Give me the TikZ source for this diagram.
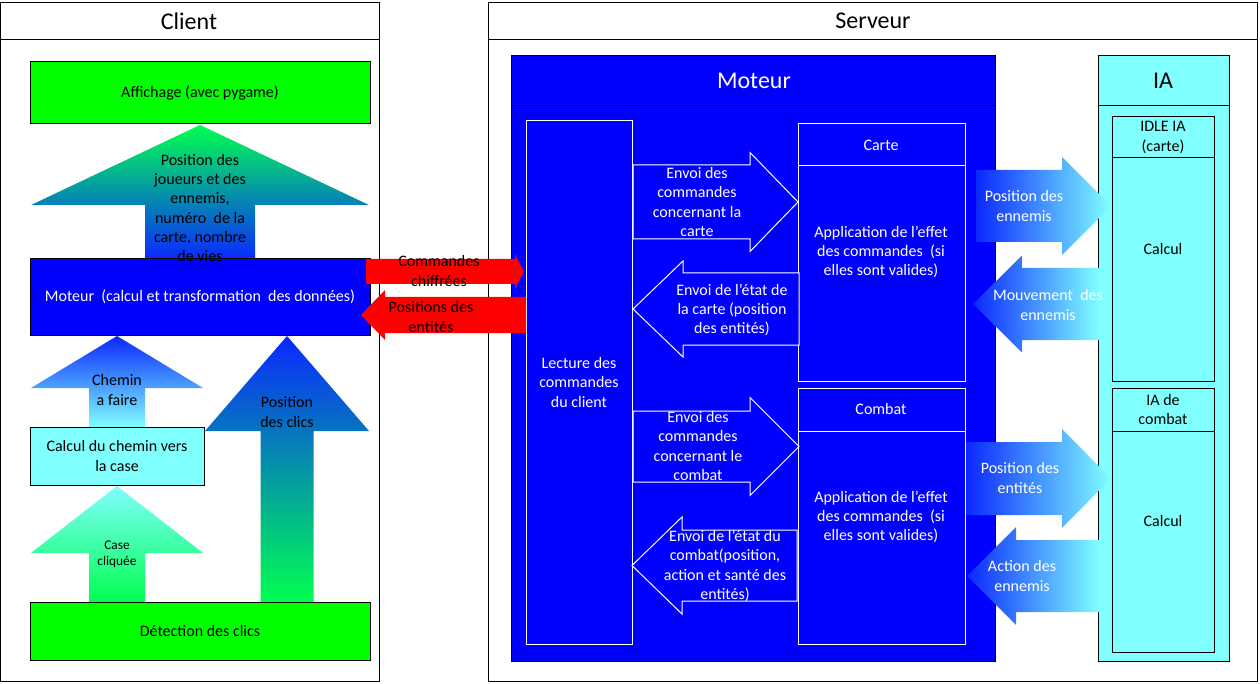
\documentclass[tikz,border=0pt]{standalone}
\usepackage{fontspec}
\setmainfont{Carlito}
\usepackage{tikz}
\newcommand{\px}{.75pt}
\definecolor{vert}{HTML}{00FF00}
\definecolor{bleu}{HTML}{0000FF}
\definecolor{cyanclair}{HTML}{80FFFF}
\definecolor{rouge}{HTML}{FF0000}
\definecolor{vertvif}{HTML}{00FF50}
\definecolor{bleuvif}{HTML}{0A28FF}
% block arrows: style, start, head base, tip, axis, half shaft, half head
\newcommand{\harrow}[7]{\path[#1] (#2,{#5-#6}) -- (#3,{#5-#6}) -- (#3,{#5-#7}) -- (#4,#5) -- (#3,{#5+#7}) -- (#3,{#5+#6}) -- (#2,{#5+#6}) -- cycle;}
\newcommand{\varrow}[7]{\path[#1] ({#5-#6},#2) -- ({#5-#6},#3) -- ({#5-#7},#3) -- (#5,#4) -- ({#5+#7},#3) -- ({#5+#6},#3) -- ({#5+#6},#2) -- cycle;}

\begin{document}
\begin{tikzpicture}[x=\px, y=-\px, line width=\px,
    box/.style={draw, inner sep=0pt, align=center},
    txt/.style={align=center, font=\fontsize{12}{14.4}\selectfont},
    petit/.style={align=center, font=\fontsize{10}{12}\selectfont},
    titre/.style={font=\fontsize{18}{21}\selectfont}]
  \useasboundingbox (0,0) rectangle (1260,684);

      % Client
  \draw (0.5,3) rectangle (379,681);
  \draw (0.5,40) -- (379,40);
  \node (client) at (189,21) [titre] {Client};

  \varrow{top color=vertvif, bottom color=bleuvif}{260}{205}{125}{200}{55}{169}
  \varrow{top color=bleuvif, bottom color=cyanclair}{427}{388}{336}{117}{28}{86}
  \varrow{top color=cyanclair, bottom color=vertvif}{602}{553}{486}{117}{28}{86}
  \varrow{top color=bleuvif, bottom color=vertvif}{602}{431}{336}{287}{26.5}{82}

  \node (affichage) at (200,93) [box, fill=vert, minimum width=340*\px, minimum height=62*\px, txt] {Affichage (avec pygame)};
  \node (moteurc) at (200,297) [box, fill=bleu, text=white, minimum width=340*\px, minimum height=76*\px, txt] {Moteur~ (calcul et transformation~ des données)};
  \node (calcul) at (117,456) [box, fill=cyanclair, minimum width=174*\px, minimum height=58*\px, txt] {Calcul du chemin vers\\la case};
  \node (detection) at (200,631) [box, fill=vert, minimum width=340*\px, minimum height=58*\px, txt] {Détection des clics};

  \node (infos) at (200,208) [txt] {Position des\\joueurs et des\\ennemis,\\numéro~ de la\\carte, nombre\\de vies};
  \node (chemin) at (117,390) [txt] {Chemin\\a faire};
  \node (case) at (117,554) [petit] {Case\\cliquée};
  \node (clics) at (287,412) [txt] {Position\\des clics};

      % Serveur
  \draw (488,3) rectangle (1257,681);
  \draw (488,40) -- (1257,40);
  \node (serveur) at (873,21) [titre] {Serveur};

  \draw[fill=bleu] (511,56) rectangle (995,661);
  \draw (511,106) -- (995,106);
  \node (moteurs) at (754,81) [titre, text=white] {Moteur};

  \node (lecture) at (579,382.5) [box, draw=white, text=white, minimum width=106*\px, minimum height=523*\px, txt] {Lecture des\\commandes\\du client};

  \foreach \nom/\ya/\yb/\yc in {Carte/124/166/381, Combat/388/431/644}
  {
    \draw[white] (798,\ya) rectangle (965,\yc);
    \draw[white] (798,\yb) -- (965,\yb);
    \node (\nom) at (881,{(\ya+\yb)/2}) [txt, text=white] {\nom};
    \node (effet\nom) at (881,{\yb+86}) [txt, text=white] {Application de l’effet\\des commandes~ (si\\elles sont valides)};
  }

  \harrow{draw=white, fill=bleu}{633}{750}{798}{202}{37}{49.5}
  \harrow{draw=white, fill=bleu}{799}{683}{633}{309}{36}{48}
  \harrow{draw=white, fill=bleu}{633}{750}{799}{446.5}{35.5}{49}
  \harrow{draw=white, fill=bleu}{797}{682}{632}{565.5}{35.5}{48.5}
  \node (envoicarte) at (697,202) [txt, text=white] {Envoi des\\commandes\\concernant la\\carte};
  \node (etatcarte) at (732,310) [txt, text=white] {Envoi de l’état de\\la carte (position\\des entités)};
  \node (envoicombat) at (698,446) [txt, text=white] {Envoi des\\commandes\\concernant le\\combat};
  \node (etatcombat) at (725,566) [txt, text=white] {Envoi de l’état du\\combat(position,\\action et santé des\\entités)};

      % IA
  \draw[fill=cyanclair] (1098,56) rectangle (1229,661);
  \draw (1098,106) -- (1229,106);
  \node (ia) at (1163,81) [titre] {IA};

  \harrow{left color=bleuvif, right color=cyanclair}{976}{1062}{1111}{206}{36}{49}
  \harrow{left color=bleuvif, right color=cyanclair}{1099}{1022}{973}{304}{36}{48.5}
  \harrow{left color=bleuvif, right color=cyanclair}{966}{1062}{1111}{478.5}{36.5}{49.5}
  \harrow{left color=bleuvif, right color=cyanclair}{1099}{1016}{967}{576}{36}{49}

  \foreach \nom/\ya/\yb/\yc/\lab/\yt in {idle/117/158/381/{IDLE IA\\(carte)}/249, iacombat/388/431/652/{IA de\\combat}/521}
  {
    \draw[fill=cyanclair] (1112,\ya) rectangle (1214,\yc);
    \draw (1112,\yb) -- (1214,\yb);
    \node (\nom) at (1163,{(\ya+\yb)/2}) [txt] {\lab};
    \node (calcul\nom) at (1163,\yt) [txt] {Calcul};
  }

  \node (posennemis) at (1024,206) [txt, text=white] {Position des\\ennemis};
  \node (mouvement) at (1048,305) [txt, text=white] {Mouvement~ des\\ennemis};
  \node (posentites) at (1020,478) [txt, text=white] {Position des\\entités};
  \node (action) at (1022,576) [txt, text=white] {Action des\\ennemis};

      % liaison client / serveur
  \harrow{fill=rouge}{366}{515}{524}{271.5}{12.5}{17.5}
  \harrow{fill=rouge}{526}{385}{361}{315}{18}{25}
  \node (chiffrees) at (439,271) [txt] {Commandes\\chiffrées};
  \node (positions) at (431,317) [txt] {Positions des\\entités};
\end{tikzpicture}
\end{document}
